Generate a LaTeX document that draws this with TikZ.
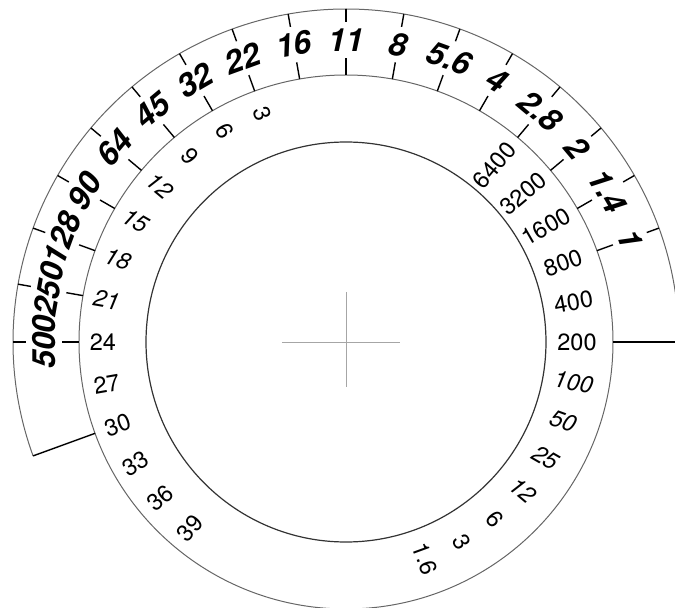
\documentclass[tikz,border=0pt]{standalone}
\usepackage{fontspec}
\setmainfont{TeX Gyre Heros}
\begin{document}
\begin{tikzpicture}[x=1pt,y=1pt,
  ring/.style={line width=1pt,black!60},
  scaletick/.style={line width=1.4pt,black},
  fnum/.style={font=\bfseries\itshape\fontsize{32}{32}\selectfont,inner sep=0pt},
  dial/.style={font=\fontsize{23.5}{23.5}\selectfont,inner sep=0pt}]
\useasboundingbox (-346,-266) rectangle (329,342);
\clip (-346,-266) rectangle (329,342);
\coordinate (c) at (0,0);
% cross in the middle
\draw[black!35,line width=0.9pt] (-64,0)--(54,0);
\draw[black!35,line width=0.9pt] (0,50)--(0,-45);
% circles
\draw[line width=1.2pt,black!80] (c) circle (200);
\draw[ring] (c) circle (267);
\draw[ring] (0:333) arc (0:200:333);
\draw[scaletick] (0:267)--(0:345);
\draw[scaletick] (200:267)--(200:333);
% f-numbers and times
\foreach \lab [count=\i] in {1,1.4,2,2.8,4,5.6,8,11,16,22,32,45,64,90,128,250,500} {
  \pgfmathsetmacro\ang{10+10*\i}
  \draw[scaletick] (\ang:267)--(\ang:284) (\ang:320)--(\ang:333);
  \node[fnum,rotate=\ang-90] (f\i) at (\ang:302) {\lab};
}
% DIN side
\foreach \lab/\sl [count=\i] in {3/0,6/0,9/0,12/1,15/1,18/1,21/1,24/0,27/0,30/0,33/0,36/0,39/0} {
  \pgfmathsetmacro\ang{100+10*\i}
  \node[dial,rotate=\ang-180] (d\i) at (\ang:243) {\ifnum\sl=1 \itshape\fi\lab};
}
% ASA side
\foreach \lab/\sl [count=\i] in {6400/0,3200/0,1600/0,800/0,400/0,200/0,100/1,50/1,25/1,12/1,6/0,3/0,1.6/0} {
  \pgfmathsetmacro\ang{60-10*\i}
  \node[dial,rotate=\ang] (a\i) at (\ang:231) {\ifnum\sl=1 \itshape\fi\lab};
}
\end{tikzpicture}
\end{document}
